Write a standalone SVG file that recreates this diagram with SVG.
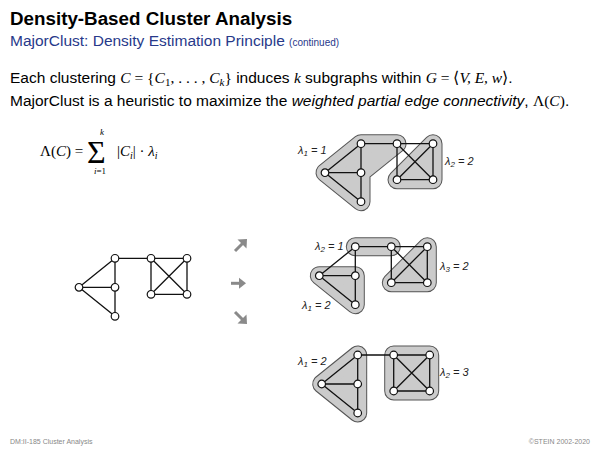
<svg xmlns="http://www.w3.org/2000/svg" width="600" height="450" viewBox="0 0 600 450">
<defs>
<style>
.sans{font-family:"Liberation Sans",Arial,sans-serif}
.serif{font-family:"Liberation Serif","Times New Roman",serif}
.title{font-size:18.8px;font-weight:bold;fill:#000}
.sub{font-size:15.5px;fill:#27398a}
.body{font-size:15.5px;fill:#000}
.lab{font-family:"Liberation Sans",Arial,sans-serif;font-size:11px;font-style:italic;fill:#222}
.foot{font-size:7px;fill:#888}
.edge{stroke:#111;stroke-width:1.3;fill:none}
.node circle{fill:#fff;stroke:#111;stroke-width:1.2}
.hullO{fill:#555;stroke:#555;stroke-width:19;stroke-linejoin:round;stroke-linecap:round}
.hullI{fill:#cbcbcb;stroke:#cbcbcb;stroke-width:17;stroke-linejoin:round;stroke-linecap:round}
.arr{stroke:#8a8a8a;stroke-width:3;fill:none;stroke-linecap:butt}
.arrh{fill:#8a8a8a}
</style>
</defs>
<rect width="600" height="450" fill="#fff"/>

<g id="header">
<text class="sans title" x="10" y="25">Density-Based Cluster Analysis</text>
<text class="sans sub" x="10" y="46">MajorClust: Density Estimation Principle <tspan font-size="10">(continued)</tspan></text>
</g>

<g id="bodytext">
<text class="sans body" x="10" y="83">Each clustering <tspan class="serif" font-style="italic">C</tspan><tspan class="serif"> = {</tspan><tspan class="serif" font-style="italic">C</tspan><tspan class="serif" font-size="11" dy="3">1</tspan><tspan class="serif" dy="-3">, . . . , </tspan><tspan class="serif" font-style="italic">C</tspan><tspan class="serif" font-style="italic" font-size="11" dy="3">k</tspan><tspan class="serif" dy="-3">}</tspan> induces <tspan class="serif" font-style="italic">k</tspan> subgraphs within <tspan class="serif" font-style="italic">G</tspan><tspan class="serif"> = ⟨</tspan><tspan class="serif" font-style="italic">V, E, w</tspan><tspan class="serif">⟩</tspan>.</text>
<text class="sans body" x="10" y="106">MajorClust is a heuristic to maximize the <tspan font-style="italic">weighted partial edge connectivity</tspan>, <tspan class="serif">Λ(</tspan><tspan class="serif" font-style="italic">C</tspan><tspan class="serif">)</tspan>.</text>
</g>

<g id="formula" class="serif" fill="#000">
<text x="40" y="156" font-size="15">Λ(<tspan font-style="italic">C</tspan>) =</text>
<text x="87" y="163" font-size="32">Σ</text>
<text x="100" y="135" font-size="9" font-style="italic">k</text>
<text x="94" y="174" font-size="9"><tspan font-style="italic">i</tspan>=1</text>
<text x="117" y="156" font-size="15">|<tspan font-style="italic">C</tspan><tspan font-size="10" font-style="italic" dy="3">i</tspan><tspan dy="-3">| · </tspan><tspan font-style="italic">λ</tspan><tspan font-size="10" font-style="italic" dy="3">i</tspan></text>
</g>

<!-- Base graph -->
<g id="graph0" transform="translate(79,287.3)">
<g id="g0-edges" class="edge">
<path d="M0 0L36 -29M0 0L36 0M0 0L36 29M36 -29L36 29M36 -29L72 -29M72 -29L108 -29M72 -29L72 7M108 -29L108 7M72 7L108 7M72 -29L108 7M108 -29L72 7"/>
</g>
<g id="g0-n1" class="node"><circle cx="0" cy="0" r="3.8"/></g>
<g id="g0-n2" class="node"><circle cx="36" cy="-29" r="3.8"/></g>
<g id="g0-n3" class="node"><circle cx="36" cy="0" r="3.8"/></g>
<g id="g0-n4" class="node"><circle cx="36" cy="29" r="3.8"/></g>
<g id="g0-n5" class="node"><circle cx="72" cy="-29" r="3.8"/></g>
<g id="g0-n6" class="node"><circle cx="108" cy="-29" r="3.8"/></g>
<g id="g0-n7" class="node"><circle cx="72" cy="7" r="3.8"/></g>
<g id="g0-n8" class="node"><circle cx="108" cy="7" r="3.8"/></g>
</g>

<!-- Arrows -->
<g id="arrows">
<path class="arr" d="M235 251L242.5 243.5"/><path class="arrh" d="M247 239L246.5 248.5L237.5 239.5Z"/>
<path class="arr" d="M231 283.3L240 283.3"/><path class="arrh" d="M246 283.3L239 277.8L239 288.8Z"/>
<path class="arr" d="M235 312L242.5 319.5"/><path class="arrh" d="M247 324L237.5 323.5L246.5 314.5Z"/>
</g>

<!-- Clustering 1 (top) -->
<g id="graph1" transform="translate(325,172.7)">
<g id="g1-hulls">
<path class="hullO" d="M0 0L36 -29L72 -29L36 0L36 29Z"/>
<path class="hullO" d="M108 -29L108 7L72 7Z"/>
<path class="hullI" d="M0 0L36 -29L72 -29L36 0L36 29Z"/>
<path class="hullI" d="M108 -29L108 7L72 7Z"/>
</g>
<g id="g1-edges" class="edge">
<path d="M0 0L36 -29M0 0L36 0M0 0L36 29M36 -29L36 29M36 -29L72 -29M72 -29L108 -29M72 -29L72 7M108 -29L108 7M72 7L108 7M72 -29L108 7M108 -29L72 7"/>
</g>
<g id="g1-n1" class="node"><circle cx="0" cy="0" r="3.8"/></g>
<g id="g1-n2" class="node"><circle cx="36" cy="-29" r="3.8"/></g>
<g id="g1-n3" class="node"><circle cx="36" cy="0" r="3.8"/></g>
<g id="g1-n4" class="node"><circle cx="36" cy="29" r="3.8"/></g>
<g id="g1-n5" class="node"><circle cx="72" cy="-29" r="3.8"/></g>
<g id="g1-n6" class="node"><circle cx="108" cy="-29" r="3.8"/></g>
<g id="g1-n7" class="node"><circle cx="72" cy="7" r="3.8"/></g>
<g id="g1-n8" class="node"><circle cx="108" cy="7" r="3.8"/></g>
</g>
<text class="lab" x="298" y="154">λ<tspan font-size="8" dy="2">1</tspan><tspan dy="-2"> = 1</tspan></text>
<text class="lab" x="445" y="165">λ<tspan font-size="8" dy="2">2</tspan><tspan dy="-2"> = 2</tspan></text>

<!-- Clustering 2 (middle) -->
<g id="graph2" transform="translate(319.3,275.7)">
<g id="g2-hulls">
<path class="hullO" d="M36 -29L72 -29"/>
<path class="hullO" d="M0 0L36 0L36 29Z"/>
<path class="hullO" d="M108 -29L108 7L72 7Z"/>
<path class="hullI" d="M36 -29L72 -29"/>
<path class="hullI" d="M0 0L36 0L36 29Z"/>
<path class="hullI" d="M108 -29L108 7L72 7Z"/>
</g>
<g id="g2-edges" class="edge">
<path d="M0 0L36 -29M0 0L36 0M0 0L36 29M36 -29L36 29M36 -29L72 -29M72 -29L108 -29M72 -29L72 7M108 -29L108 7M72 7L108 7M72 -29L108 7M108 -29L72 7"/>
</g>
<g id="g2-n1" class="node"><circle cx="0" cy="0" r="3.8"/></g>
<g id="g2-n2" class="node"><circle cx="36" cy="-29" r="3.8"/></g>
<g id="g2-n3" class="node"><circle cx="36" cy="0" r="3.8"/></g>
<g id="g2-n4" class="node"><circle cx="36" cy="29" r="3.8"/></g>
<g id="g2-n5" class="node"><circle cx="72" cy="-29" r="3.8"/></g>
<g id="g2-n6" class="node"><circle cx="108" cy="-29" r="3.8"/></g>
<g id="g2-n7" class="node"><circle cx="72" cy="7" r="3.8"/></g>
<g id="g2-n8" class="node"><circle cx="108" cy="7" r="3.8"/></g>
</g>
<text class="lab" x="315" y="250">λ<tspan font-size="8" dy="2">2</tspan><tspan dy="-2"> = 1</tspan></text>
<text class="lab" x="440" y="270">λ<tspan font-size="8" dy="2">3</tspan><tspan dy="-2"> = 2</tspan></text>
<text class="lab" x="302" y="309">λ<tspan font-size="8" dy="2">1</tspan><tspan dy="-2"> = 2</tspan></text>

<!-- Clustering 3 (bottom) -->
<g id="graph3" transform="translate(321.7,384)">
<g id="g3-hulls">
<path class="hullO" d="M0 0L36 -29L36 29Z"/>
<path class="hullO" d="M72 -29L108 -29L108 7L72 7Z"/>
<path class="hullI" d="M0 0L36 -29L36 29Z"/>
<path class="hullI" d="M72 -29L108 -29L108 7L72 7Z"/>
</g>
<g id="g3-edges" class="edge">
<path d="M0 0L36 -29M0 0L36 0M0 0L36 29M36 -29L36 29M36 -29L72 -29M72 -29L108 -29M72 -29L72 7M108 -29L108 7M72 7L108 7M72 -29L108 7M108 -29L72 7"/>
</g>
<g id="g3-n1" class="node"><circle cx="0" cy="0" r="3.8"/></g>
<g id="g3-n2" class="node"><circle cx="36" cy="-29" r="3.8"/></g>
<g id="g3-n3" class="node"><circle cx="36" cy="0" r="3.8"/></g>
<g id="g3-n4" class="node"><circle cx="36" cy="29" r="3.8"/></g>
<g id="g3-n5" class="node"><circle cx="72" cy="-29" r="3.8"/></g>
<g id="g3-n6" class="node"><circle cx="108" cy="-29" r="3.8"/></g>
<g id="g3-n7" class="node"><circle cx="72" cy="7" r="3.8"/></g>
<g id="g3-n8" class="node"><circle cx="108" cy="7" r="3.8"/></g>
</g>
<text class="lab" x="298" y="365">λ<tspan font-size="8" dy="2">1</tspan><tspan dy="-2"> = 2</tspan></text>
<text class="lab" x="440" y="376">λ<tspan font-size="8" dy="2">2</tspan><tspan dy="-2"> = 3</tspan></text>

<g id="footer" class="sans foot">
<text x="10" y="444">DM:II-185    Cluster Analysis</text>
<text x="590" y="444" text-anchor="end">©STEIN 2002-2020</text>
</g>
</svg>
